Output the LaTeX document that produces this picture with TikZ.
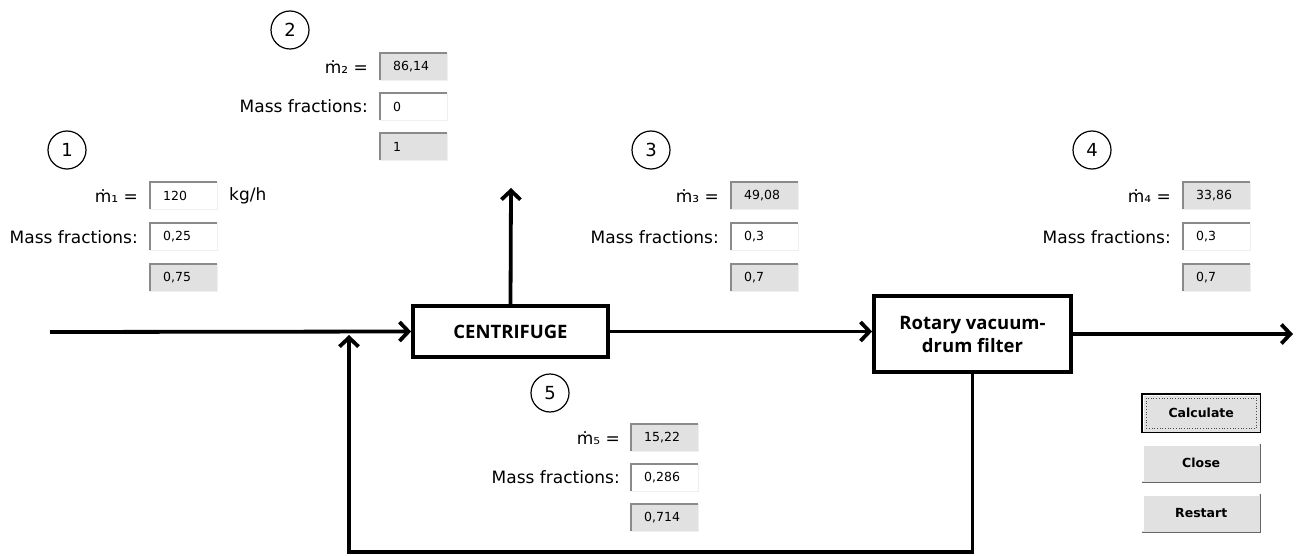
\documentclass[tikz,border=0pt]{standalone}
\usepackage{fontspec}
\setmainfont{DejaVu Sans}
\newfontfamily\osans{Open Sans}
\usetikzlibrary{arrows.meta}
\definecolor{fldgray}{HTML}{E1E1E1}
\definecolor{edgedark}{HTML}{8A8A8A}
\definecolor{edgelight}{HTML}{EFEFEF}
\definecolor{btngray}{HTML}{E1E1E1}
\tikzset{
  lbl/.style={inner sep=0pt, font=\fontsize{17}{20}\selectfont, anchor=east},
  fld/.style={anchor=north west, inner ysep=0pt, inner xsep=13pt, text width=41pt, minimum height=27pt, align=left, font=\fontsize{12.5}{14}\selectfont},
  fldg/.style={fld, fill=fldgray},
  fldw/.style={fld, fill=white},
  num/.style={circle, draw, line width=1.2pt, minimum size=38pt, inner sep=0pt, font=\fontsize{18}{20}\selectfont},
  unit/.style={draw, line width=3.8pt, fill=white, font=\osans\bfseries\fontsize{18.5}{23}\selectfont, align=center, inner sep=0pt},
  flow/.style={line width=3.8pt, -{Straight Barb[length=9pt,width=19pt,line width=3.8pt]}},
  btn/.style={anchor=north west, fill=btngray, minimum width=118pt, minimum height=38pt, inner sep=0pt, font=\bfseries\fontsize{12.5}{14}\selectfont},
}
\newcommand\fbx[5]{%
  \node[#5] (#1) at (#2,#3) {#4};
  \draw[edgedark, line width=1.6pt] (#1.south west) -- (#1.north west) -- (#1.north east);
  \draw[edgelight, line width=1.2pt] (#1.north east) -- (#1.south east) -- (#1.south west);
}
\newcommand\btnbox[4]{%
  \node[btn] (#1) at (#2,#3) {#4};
  \draw[white, line width=1.4pt] ([shift={(1pt,1pt)}]#1.south west) -- ([shift={(1pt,-1pt)}]#1.north west) -- ([shift={(-1pt,-1pt)}]#1.north east);
  \draw[black!60, line width=1.4pt] (#1.north east) -- (#1.south east) -- (#1.south west);
}
\begin{document}
\begin{tikzpicture}[x=1pt,y=-1pt]
\useasboundingbox[fill=white] (0,0) rectangle (1298,556);

% ---------- process units ----------
\node[unit, minimum width=195pt, minimum height=51pt] (cent) at (510.5,331.5) {CENTRIFUGE};
\node[unit, minimum width=197pt, minimum height=76pt] (filt) at (972.5,334) {Rotary vacuum-\\drum filter};

\coordinate (in) at (50,332);
\coordinate (out2) at (511,188);
\coordinate (out4) at (1293,334);
\coordinate (jb) at (349,552);
\coordinate (j) at (349,335);

\draw[flow] (in) -- (cent.west);
\draw[flow] (cent.north) -- (out2);
\draw[flow] (cent.east) -- (cent.east -| filt.west);
\draw[flow] (filt.east) -- (out4);
\draw[flow] (filt.south) |- (jb) -- (j);

% ---------- stream 1 ----------
\node[num] (c1) at (67,150) {1};
\node[lbl] (l1m) at (138,196) {ṁ₁ =};
\node[lbl] (l1f) at (138,237) {Mass fractions:};
\fbx{f1a}{150}{182}{120}{fldw}
\fbx{f1b}{150}{223}{0,25}{fldw}
\fbx{f1c}{150}{264}{0,75}{fldg}
\node[lbl, anchor=west] (u1) at (229,196) {kg/h};

% ---------- stream 2 ----------
\node[num] (c2) at (290,30) {2};
\node[lbl] (l2m) at (368,67) {ṁ₂ =};
\node[lbl] (l2f) at (368,106) {Mass fractions:};
\fbx{f2a}{380}{53}{86,14}{fldg}
\fbx{f2b}{380}{93}{0}{fldw}
\fbx{f2c}{380}{133}{1}{fldg}

% ---------- stream 3 ----------
\node[num] (c3) at (651,150) {3};
\node[lbl] (l3m) at (719,196) {ṁ₃ =};
\node[lbl] (l3f) at (719,237) {Mass fractions:};
\fbx{f3a}{731}{182}{49,08}{fldg}
\fbx{f3b}{731}{223}{0,3}{fldw}
\fbx{f3c}{731}{264}{0,7}{fldg}

% ---------- stream 4 ----------
\node[num] (c4) at (1092,150) {4};
\node[lbl] (l4m) at (1171,196) {ṁ₄ =};
\node[lbl] (l4f) at (1171,237) {Mass fractions:};
\fbx{f4a}{1183}{182}{33,86}{fldg}
\fbx{f4b}{1183}{223}{0,3}{fldw}
\fbx{f4c}{1183}{264}{0,7}{fldg}

% ---------- stream 5 ----------
\node[num] (c5) at (550,393) {5};
\node[lbl] (l5m) at (620,438) {ṁ₅ =};
\node[lbl] (l5f) at (620,477) {Mass fractions:};
\fbx{f5a}{631}{424}{15,22}{fldg}
\fbx{f5b}{631}{464}{0,286}{fldw}
\fbx{f5c}{631}{504}{0,714}{fldg}

% ---------- buttons ----------
\btnbox{calc}{1142}{394}{Calculate}
\draw[black, line width=1.6pt] (calc.south west) rectangle (calc.north east);
\draw[black!70, line width=0.7pt, dotted] ([shift={(4pt,4pt)}]calc.south west) rectangle ([shift={(-4pt,-4pt)}]calc.north east);
\btnbox{close}{1142}{444}{Close}
\btnbox{restart}{1142}{494}{Restart}
\end{tikzpicture}
\end{document}
